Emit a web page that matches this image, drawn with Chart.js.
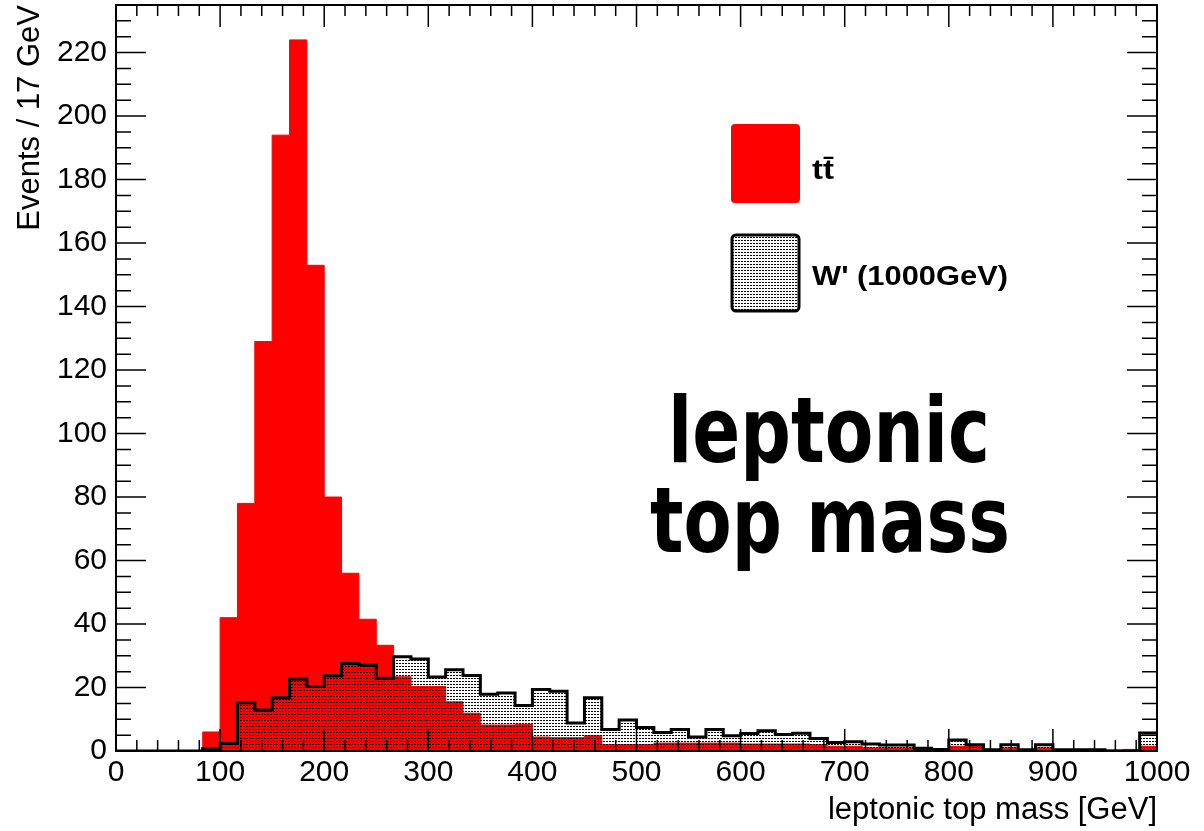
<!DOCTYPE html>
<html lang="en">
<head>
<meta charset="UTF-8">
<title>Leptonic top mass</title>
<script src="https://cdn.jsdelivr.net/npm/chart.js"></script>
<style>
  html, body { margin: 0; padding: 0; background: #fff; }
  canvas { display: block; }
</style>
</head>
<body>
<canvas id="massChart" width="1204" height="831"></canvas>
<script>
// binning of both histograms: 60 bins over 0 - 1000 GeV
const xMin = 0;
const xMax = 1000;
const yMax = 235;

// ttbar counts per bin
const ttbarCounts = [
  0, 0, 0, 0, 0, 6, 42, 78, 129, 194,
  224, 153, 80, 56, 41.5, 33.3, 23.4, 20.3, 20.3, 15.5,
  11.9, 8.2, 8.2, 8.4, 4.4, 4.2, 4.2, 4.8, 2, 2,
  2, 2.5, 2.5, 2.5, 2.5, 2.5, 2.2, 2.2, 2.2, 2.2,
  2, 1.5, 1.5, 1, 1, 1, 0.5, 0.5, 1.5, 1.5,
  0.3, 1, 0.3, 1, 0.3, 0.3, 0.3, 0.3, 0.5, 1.5
];

// W' (1000 GeV) counts per bin
const wprimeCounts = [
  0, 0, 0, 0, 0, 0.8, 2.4, 15.2, 12.9, 16.8,
  22.7, 20.3, 23.7, 27.6, 27.0, 22.9, 29.7, 29.0, 23.3, 25.6,
  23.8, 17.9, 18.3, 14.3, 19.4, 18.8, 8.8, 16.8, 6.8, 9.8,
  7.4, 5.8, 6.8, 4.4, 6.8, 4.8, 5.5, 6.4, 5.2, 5.6,
  3.9, 2.7, 2.9, 2.2, 1.9, 1.9, 0.85, 0.5, 3.5, 2.0,
  0.4, 2.0, 0.4, 2.0, 0.4, 0.4, 0.4, 0, 0, 5.7
];

const xTickLabels = [0, 100, 200, 300, 400, 500, 600, 700, 800, 900, 1000];
const yTickLabels = [0, 20, 40, 60, 80, 100, 120, 140, 160, 180, 200, 220];

// bin contents -> points on the low edges, plus the closing edge at xMax
function stepPoints(counts) {
  const w = (xMax - xMin) / counts.length;
  const pts = counts.map((c, i) => ({ x: xMin + i * w, y: c }));
  pts.push({ x: xMax, y: counts[counts.length - 1] });
  return pts;
}

// dotted fill used by the W' histogram
function dotPattern() {
  const c = document.createElement('canvas');
  c.width = 3;
  c.height = 3;
  const g = c.getContext('2d');
  g.fillStyle = '#000';
  g.fillRect(0, 0, 2, 1);
  return g.createPattern(c, 'repeat');
}

Chart.defaults.font.family = '"Liberation Sans", Arial, sans-serif';
Chart.defaults.color = '#000';

// ROOT style frame with inner ticks on all four sides, plus axis titles
const frameTicks = {
  id: 'frameTicks',
  afterDatasetsDraw(chart) {
    const { ctx, chartArea: a, scales: { x, y } } = chart;
    ctx.save();
    ctx.strokeStyle = '#000';
    ctx.lineWidth = 1.5;
    ctx.beginPath();
    for (let v = xMin; v <= xMax; v += 20) {
      const px = x.getPixelForValue(v);
      const len = v % 100 === 0 ? 22 : 11;
      ctx.moveTo(px, a.bottom);
      ctx.lineTo(px, a.bottom - len);
      ctx.moveTo(px, a.top);
      ctx.lineTo(px, a.top + len);
    }
    for (let v = 0; v <= yMax; v += 5) {
      const py = y.getPixelForValue(v);
      const len = v % 20 === 0 ? 30 : 15;
      ctx.moveTo(a.left, py);
      ctx.lineTo(a.left + len, py);
      ctx.moveTo(a.right, py);
      ctx.lineTo(a.right - len, py);
    }
    ctx.stroke();
    ctx.lineWidth = 2;
    ctx.strokeRect(a.left, a.top, a.right - a.left, a.bottom - a.top);

    ctx.fillStyle = '#000';
    ctx.font = '31px "Liberation Sans", Arial, sans-serif';
    ctx.textAlign = 'right';
    ctx.textBaseline = 'alphabetic';
    ctx.fillText('leptonic top mass [GeV]', a.right, 819);
    ctx.translate(39, a.top);
    ctx.rotate(-Math.PI / 2);
    ctx.fillText('Events / 17 GeV', 0, 0);
    ctx.restore();
  }
};

// legend boxes and the big label inside the frame
const annotations = {
  id: 'annotations',
  afterDraw(chart) {
    const { ctx } = chart;
    ctx.save();

    ctx.fillStyle = '#ff0000';
    ctx.beginPath();
    ctx.roundRect(731, 124, 69, 79, 4);
    ctx.fill();

    ctx.beginPath();
    ctx.roundRect(732, 235, 67, 76, 4);
    ctx.fillStyle = '#fff';
    ctx.fill();
    ctx.fillStyle = dotPattern();
    ctx.fill();
    ctx.lineWidth = 3;
    ctx.strokeStyle = '#000';
    ctx.stroke();

    ctx.fillStyle = '#000';
    ctx.font = 'bold 27px "Liberation Sans", Arial, sans-serif';
    ctx.textBaseline = 'alphabetic';
    ctx.textAlign = 'left';
    const stretched = (text, x, yb, width) => {
      const w = ctx.measureText(text).width;
      ctx.save();
      ctx.translate(x, yb);
      ctx.scale(width / w, 1);
      ctx.fillText(text, 0, 0);
      ctx.restore();
    };
    stretched('t\u0074\u0304', 812, 179, 22);
    stretched("W' (1000GeV)", 812, 285, 196);

    ctx.font = 'bold 91px "DejaVu Sans", Verdana, sans-serif';
    ctx.textAlign = 'center';
    ctx.fillText('leptonic', 829, 462, 322);
    ctx.fillText('top mass', 830, 552, 360);
    ctx.restore();
  }
};

new Chart(document.getElementById('massChart'), {
  type: 'line',
  data: {
    datasets: [
      {
        label: 't\u0074\u0304',
        data: stepPoints(ttbarCounts),
        stepped: 'before',
        fill: 'origin',
        backgroundColor: '#ff0000',
        borderColor: '#ff0000',
        borderWidth: 1,
        pointRadius: 0,
        order: 2
      },
      {
        label: "W' (1000GeV)",
        data: stepPoints(wprimeCounts),
        stepped: 'before',
        fill: 'origin',
        backgroundColor: dotPattern(),
        borderColor: '#000',
        borderWidth: 3,
        pointRadius: 0,
        order: 1
      }
    ]
  },
  options: {
    responsive: false,
    animation: false,
    layout: { padding: { top: 5, right: 47, left: 0, bottom: 0 } },
    plugins: {
      legend: { display: false },
      tooltip: { enabled: false }
    },
    scales: {
      x: {
        type: 'linear',
        min: xMin,
        max: xMax,
        afterBuildTicks: s => { s.ticks = xTickLabels.map(v => ({ value: v })); },
        afterFit: s => {
          s.height = 80;
          s.paddingLeft = 0;
          s.paddingRight = 0;
        },
        grid: { display: false, drawTicks: false },
        border: { display: false },
        ticks: {
          font: { size: 30 },
          padding: 4,
          maxRotation: 0,
          autoSkip: false,
          callback: v => String(v)
        }
      },
      y: {
        type: 'linear',
        min: 0,
        max: yMax,
        afterBuildTicks: s => { s.ticks = yTickLabels.map(v => ({ value: v })); },
        afterFit: s => {
          s.width = 116;
          s.paddingTop = 0;
          s.paddingBottom = 0;
        },
        grid: { display: false, drawTicks: false },
        border: { display: false },
        ticks: { font: { size: 30 }, padding: 9, autoSkip: false, callback: v => String(v) }
      }
    }
  },
  plugins: [frameTicks, annotations]
});
</script>
</body>
</html>
